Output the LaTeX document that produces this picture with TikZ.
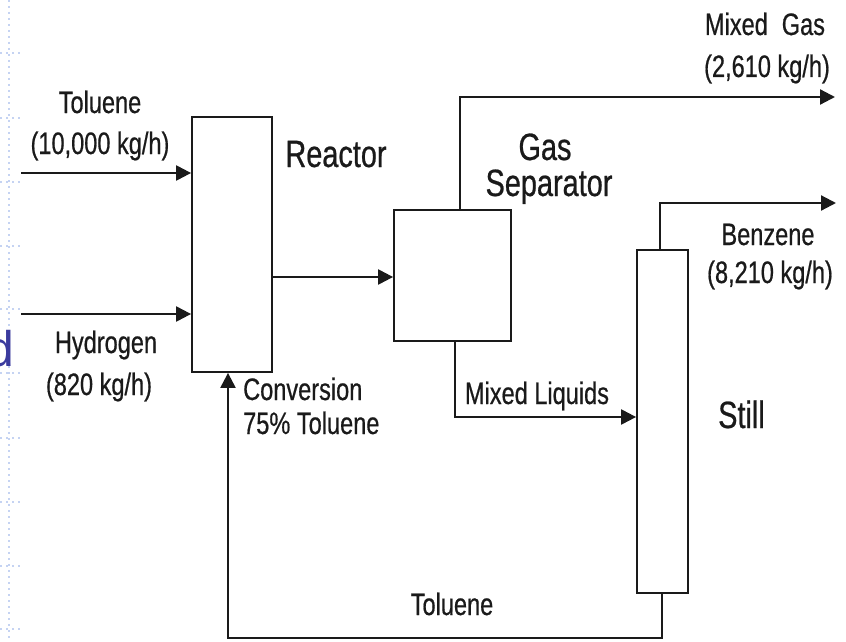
\documentclass[tikz,border=0pt]{standalone}
\usepackage{fontspec}
\setmainfont[FakeStretch=0.76, FakeBold=0.6]{Liberation Sans}
\newfontfamily\slidefont{Liberation Sans}
\usetikzlibrary{arrows.meta}
\definecolor{ink}{HTML}{1A1A1A}
\definecolor{gridblue}{HTML}{C5D3F2}
\definecolor{slideblue}{HTML}{3B3B9E}
\tikzset{
  unit/.style={draw=ink, line width=1.8pt, fill=white},
  flow/.style={draw=ink, line width=2.2pt, -{Triangle[length=15pt,width=15pt]}},
  pipe/.style={draw=ink, line width=2.2pt},
  small/.style={inner sep=0pt, text=ink, font=\fontsize{31}{35}\selectfont},
  big/.style={inner sep=0pt, text=ink, font=\fontsize{38}{42}\selectfont},
  griddot/.style={draw=gridblue, line width=1.6pt, dash pattern=on 2pt off 4pt},
}
\begin{document}
\begin{tikzpicture}[x=1pt, y=-1pt]
\useasboundingbox (0,0) rectangle (846,642);
% slide artefacts at the left edge
\draw[griddot] (9,0) -- (9,642);
\foreach \yy in {53,118,182,246,309,373,438,502,566,629}
  \draw[griddot] (0,\yy) -- (20,\yy);
\node[anchor=base east, inner sep=0pt, text=slideblue, font=\slidefont\fontsize{50}{54}\selectfont] (dglyph) at (15,366) {d};

% units
\node[unit, minimum width=80pt, minimum height=255pt, inner sep=0pt] (reactor) at (232,244.5) {};
\node[unit, minimum width=117pt, minimum height=131pt, inner sep=0pt] (sep) at (452.5,275.5) {};
\node[unit, minimum width=51pt, minimum height=343pt, inner sep=0pt] (still) at (662.5,421.5) {};

% free ends
\coordinate (tolin) at (21,173);
\coordinate (h2in) at (21,314);
\coordinate (gasout) at (835,97);
\coordinate (benzout) at (836,203);

% connectors
\draw[flow] (tolin) -- (tolin -| reactor.west);
\draw[flow] (h2in) -- (h2in -| reactor.west);
\draw[flow] (reactor.east |- 0,277) -- (sep.west |- 0,277);
\draw[flow] (sep.north -| 460,0) -- (460,97) -- (gasout);
\draw[flow] (sep.south -| 455,0) -- (455,417) -- (still.west |- 0,417);
\draw[flow] (still.north -| 660,0) -- (660,203) -- (benzout);
\draw[flow] (still.south -| 662,0) -- (662,638) -- (228,638) -- (reactor.south -| 228,0);

% labels
\node[small, anchor=base] (ltol) at (100,113) {Toluene};
\node[small, anchor=base] (ltolr) at (100,154) {(10,000 kg/h)};
\node[small, anchor=base] (lh2) at (106,353) {Hydrogen};
\node[small, anchor=base] (lh2r) at (99,395) {(820 kg/h)};
\node[small, anchor=base] (lgas) at (765,35) {Mixed\hspace{0.45em}Gas};
\node[small, anchor=base] (lgasr) at (767,77) {(2,610 kg/h)};
\node[small, anchor=base] (lbenz) at (768,245) {Benzene};
\node[small, anchor=base] (lbenzr) at (770,283) {(8,210 kg/h)};
\node[big, anchor=base] (lreac) at (336,167) {Reactor};
\node[big, anchor=base] (lgs1) at (545,160) {Gas};
\node[big, anchor=base] (lgs2) at (549,196) {Separator};
\node[small, anchor=base west] (lconv1) at (243,400) {Conversion};
\node[small, anchor=base west] (lconv2) at (243,434) {75\% Toluene};
\node[small, anchor=base] (lliq) at (537,404) {Mixed Liquids};
\node[small, anchor=base] (lrec) at (452,615) {Toluene};
\node[big, anchor=base west] (lstill) at (718,428) {Still};
\end{tikzpicture}
\end{document}
